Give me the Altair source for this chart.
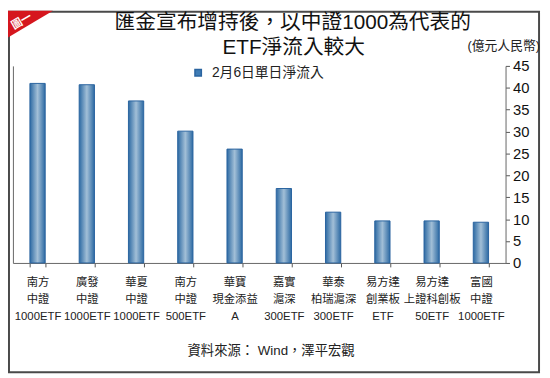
import altair as alt
import pandas as pd

# ---- data ----
name_line1 = ["南方", "廣發", "華夏", "南方", "華寶", "嘉實", "華泰", "易方達", "易方達", "富國"]
name_line2 = ["中證", "中證", "中證", "中證", "現金添益", "滬深", "柏瑞滬深", "創業板", "上證科創板", "中證"]
name_line3 = ["1000ETF", "1000ETF", "1000ETF", "500ETF", "A", "300ETF", "300ETF", "ETF", "50ETF", "1000ETF"]
net_inflow = [41.0, 40.7, 37.0, 30.1, 26.0, 17.0, 11.6, 9.6, 9.6, 9.3]
series_name = "2月6日單日淨流入"
y_ticks = [0, 5, 10, 15, 20, 25, 30, 35, 40, 45]

title_lines = ["匯金宣布增持後，以中證1000為代表的", "ETF淨流入較大"]
unit_text = "(億元人民幣)"
source_text = "資料來源： Wind，澤平宏觀"
badge_text = "圖一"

labels = ["\n".join(t) for t in zip(name_line1, name_line2, name_line3)]
df = pd.DataFrame({"label": labels, "value": net_inflow, "series": series_name})
one = pd.DataFrame({"k": [0]})

W, H = 500, 200
CJK = "Liberation Sans, Noto Sans CJK TC"

x_enc = alt.X(
    "label:N",
    sort=labels,
    scale=alt.Scale(paddingInner=0.69, paddingOuter=0.345),
    axis=alt.Axis(
        title=None,
        labelExpr="split(datum.label, '\\n')",
        labelAngle=0,
        labelFont=CJK,
        labelFontSize=11.5,
        labelLineHeight=17,
        labelColor="#222222",
        labelPadding=10,
        labelOverlap=False,
        labelBound=False,
        tickBand="extent",
        tickSize=4,
        tickColor="#555555",
        domainColor="#666666",
        grid=False,
    ),
)
y_scale = alt.Scale(domain=[0, 45], nice=False)

grad = alt.LinearGradient(
    gradient="linear",
    stops=[
        alt.GradientStop(color="#2d6aa3", offset=0),
        alt.GradientStop(color="#a2bfd7", offset=0.5),
        alt.GradientStop(color="#2d6aa3", offset=1),
    ],
    x1=0, x2=1, y1=0, y2=0,
)

bars = alt.Chart(df).mark_bar(fill=grad, stroke="#2a64a0", strokeWidth=1).encode(
    x=x_enc,
    y=alt.Y(
        "value:Q",
        scale=y_scale,
        axis=alt.Axis(
            orient="right",
            title=None,
            values=y_ticks,
            labelFont="Liberation Sans",
            labelFontSize=15,
            labelColor="#111111",
            labelPadding=3,
            tickSize=4,
            tickColor="#555555",
            domainColor="#666666",
            grid=False,
        ),
    ),
    color=alt.Color(
        "series:N",
        scale=alt.Scale(range=["#3f7cb5"]),
        legend=alt.Legend(
            title=None,
            orient="none",
            legendX=181,
            legendY=0,
            symbolType="square",
            symbolSize=42,
            labelFont=CJK,
            labelFontSize=14,
            labelColor="#222222",
            labelOffset=7,
        ),
    ),
)

left_axis = alt.Chart(df).mark_bar(opacity=0).encode(
    x=x_enc,
    y=alt.Y(
        "value:Q",
        scale=y_scale,
        axis=alt.Axis(orient="left", title=None, labels=False, ticks=False,
                      domainColor="#666666", grid=False),
    ),
)

border = alt.Chart(one).mark_rect(fillOpacity=0, stroke="#4a4a4a", strokeWidth=2).encode(
    x=alt.value(-4), x2=alt.value(534), y=alt.value(-55), y2=alt.value(311)
)

corner = alt.Chart(one).mark_point(
    shape="M-1,-1L1,-1L-1,0.193Z", filled=True, fill="#d5161e", opacity=1,
    size=2080, strokeWidth=0
).encode(x=alt.value(17.8), y=alt.value(-33.2))

badge = alt.Chart(one).mark_text(
    text=badge_text, font=CJK, fontSize=11, color="white", angle=330, fontWeight="bold",
    align="center", baseline="middle"
).encode(x=alt.value(9), y=alt.value(-45))

t1 = alt.Chart(one).mark_text(
    text=title_lines[0], font=CJK, fontSize=21, color="#111111", align="center", baseline="middle"
).encode(x=alt.value(284), y=alt.value(-43))
t2 = alt.Chart(one).mark_text(
    text=title_lines[1], font=CJK, fontSize=21, color="#111111", align="center", baseline="middle"
).encode(x=alt.value(285), y=alt.value(-18))
unit = alt.Chart(one).mark_text(
    text=unit_text, font=CJK, fontSize=13, color="#222222", align="right", baseline="middle"
).encode(x=alt.value(535), y=alt.value(-20))
source = alt.Chart(one).mark_text(
    text=source_text, font=CJK, fontSize=13.5, color="#222222", align="center", baseline="middle"
).encode(x=alt.value(262), y=alt.value(289))

chart = (
    alt.layer(border, left_axis, bars, corner, badge, t1, t2, unit, source)
    .resolve_scale(y="shared")
    .resolve_axis(y="independent")
    .properties(
        width=W,
        height=H,
        padding={"left": 5, "top": 56, "right": 37, "bottom": 114},
        autosize=alt.AutoSizeParams(type="none"),
        background="white",
    )
    .configure_view(stroke=None)
)

chart.save("out.html", embed_options={"renderer": "svg", "actions": False})
